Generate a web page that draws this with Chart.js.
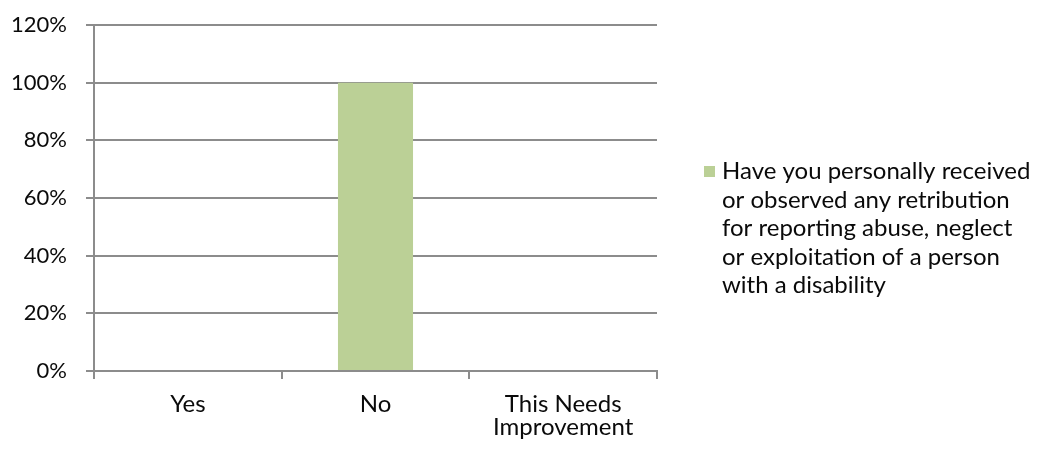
<!DOCTYPE html>
<html>
<head>
<meta charset="utf-8">
<script src="https://cdn.jsdelivr.net/npm/chart.js@4/dist/chart.umd.min.js"></script>
<style>
  html, body { margin: 0; padding: 0; background: #fff; }
  #wrap { position: relative; width: 1040px; height: 450px; }
</style>
</head>
<body>
<div id="wrap"><canvas id="chart" width="1040" height="450"></canvas></div>
<script>
// Survey answer categories (last one wraps onto two lines)
const categories = ['Yes', 'No', ['This Needs', 'Improvement']];
// Share of responses per category, in percent
const responsePercents = [0, 100, 0];
// Question text, one entry per legend line
const questionLines = [
  'Have you personally received',
  'or observed any retribution',
  'for reporting abuse, neglect',
  'or exploitation of a person',
  'with a disability'
];
// Value axis range
const yMin = 0, yMax = 120, yStep = 20;

const FONT = 'Lato, "Open Sans", sans-serif';
const TEXT = '#0a0a0a';
const GRID = '#8c8c8c';
const BAR = '#bbd096';

// Wrapped legend on the right-hand side
const sideLegend = {
  id: 'sideLegend',
  afterDraw(chart) {
    const ctx = chart.ctx;
    const ds = chart.data.datasets[0];
    const x0 = chart.chartArea.right + 47;
    ctx.save();
    ctx.fillStyle = ds.backgroundColor;
    ctx.fillRect(x0, 166, 11, 11);
    ctx.fillStyle = TEXT;
    ctx.font = '24px ' + FONT;
    ctx.textAlign = 'left';
    ctx.textBaseline = 'alphabetic';
    ds.legendLines.forEach((line, i) => {
      ctx.fillText(line, x0 + 18, 179 + i * 28.6);
    });
    ctx.restore();
  }
};

new Chart(document.getElementById('chart'), {
  type: 'bar',
  data: {
    labels: categories,
    datasets: [{
      label: questionLines.join(' '),
      legendLines: questionLines,
      data: responsePercents,
      backgroundColor: BAR,
      borderWidth: 0,
      categoryPercentage: 1,
      barPercentage: 0.4
    }]
  },
  options: {
    responsive: false,
    animation: false,
    devicePixelRatio: 1,
    layout: { padding: { left: 0, right: 383, top: 25, bottom: 0 } },
    plugins: {
      legend: { display: false },
      tooltip: { enabled: false }
    },
    scales: {
      x: {
        offset: true,
        grid: {
          offset: true,
          drawOnChartArea: false,
          drawTicks: true,
          tickLength: 8,
          color: GRID,
          lineWidth: 2
        },
        border: { display: true, color: GRID, width: 2 },
        ticks: {
          color: TEXT,
          font: { family: FONT, size: 24, lineHeight: 0.96 },
          padding: 14,
          maxRotation: 0,
          autoSkip: false
        },
        afterFit(scale) { scale.height = 79; }
      },
      y: {
        min: yMin,
        max: yMax,
        grid: {
          color: GRID,
          lineWidth: 2,
          drawTicks: true,
          tickLength: 8
        },
        border: { display: true, color: GRID, width: 2 },
        ticks: {
          stepSize: yStep,
          color: TEXT,
          font: { family: FONT, size: 22 },
          padding: 19,
          callback: v => v + '%'
        },
        afterFit(scale) {
          scale.width = 94;
          // the label gap is horizontal only; keep it out of the vertical layout
          scale.paddingTop = 0;
          scale.paddingBottom = 0;
        }
      }
    }
  },
  plugins: [sideLegend]
});
</script>
</body>
</html>
